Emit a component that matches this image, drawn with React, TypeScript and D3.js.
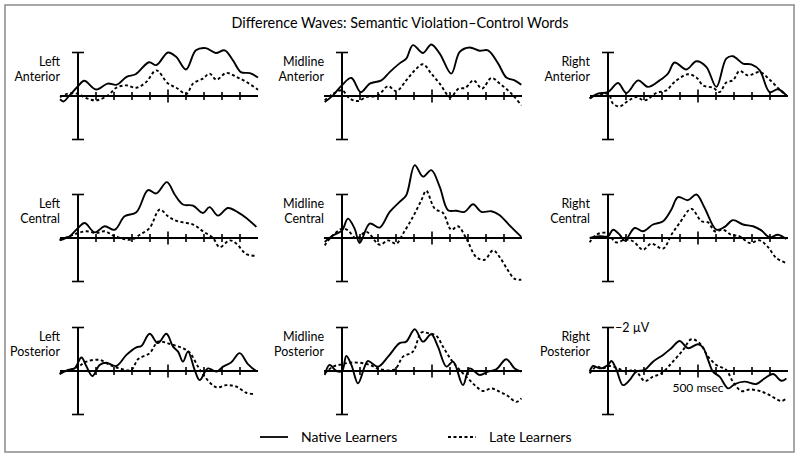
import React, { useEffect, useRef } from "react";
import * as d3 from "d3";

// grid of electrode sites
const columns = ["Left", "Midline", "Right"];
const rows = ["Anterior", "Central", "Posterior"];
const seriesNames = ["Native Learners", "Late Learners"];
const tickTimes = [100, 200, 300, 400, 500, 600, 700, 800, 900];

// [ms, µV] (negative plotted up)
const leftAnteriorNative = [
  [-100, 0.15], [-80, 0.25], [-50, 0.0], [0, -0.45], [35, -0.7], [100, -0.3], [165, -0.57],
  [215, -0.52], [270, -0.88], [320, -1.0], [395, -1.55], [435, -1.42], [500, -2.0], [545, -1.8],
  [600, -1.22], [655, -2.1], [710, -2.2], [765, -1.98], [815, -2.1], [860, -1.65], [905, -1.1],
  [955, -1.05], [1000, -0.85],
];
const leftAnteriorLate = [
  [-100, 0.05], [-56, -0.11], [0, -0.1], [46, 0.1], [102, 0.2], [167, -0.03], [213, -0.38],
  [269, -0.49], [324, -0.38], [380, -0.65], [435, -1.18], [500, -0.57], [546, -0.38], [602, -0.1],
  [639, -0.57], [694, -0.8], [731, -1.03], [769, -0.75], [824, -1.06], [880, -0.88], [935, -0.65],
  [1000, -0.29],
];
const midlineAnteriorNative = [
  [-96, 0.28], [-50, -0.03], [0, -0.5], [52, -0.83], [104, -0.18], [154, -0.57], [219, -0.72],
  [265, -1.1], [320, -1.5], [357, -1.72], [394, -2.34], [450, -1.98], [496, -2.37], [543, -1.95],
  [607, -1.03], [654, -2.03], [709, -2.23], [765, -2.08], [811, -2.1], [867, -1.5], [913, -0.85],
  [959, -0.72], [996, -0.52],
];
const midlineAnteriorLate = [
  [-96, 0.2], [-50, -0.1], [0, -0.26], [43, 0.12], [89, 0.23], [135, 0.05], [200, -0.03],
  [256, -0.45], [302, -0.22], [357, -0.72], [404, -1.18], [450, -1.46], [496, -1.03], [543, -0.57],
  [602, 0.05], [648, -0.34], [685, -0.37], [731, -0.72], [778, -0.34], [830, -0.83], [876, -0.57],
  [922, -0.26], [959, 0.05], [996, 0.43],
];
const rightAnteriorNative = [
  [-102, 0.12], [-56, -0.11], [0, -0.18], [56, -0.6], [102, -0.14], [167, -0.72], [222, -0.42],
  [287, -0.72], [333, -1.03], [370, -1.54], [435, -1.22], [491, -1.6], [546, -1.34], [602, -0.42],
  [657, -1.72], [694, -1.83], [750, -1.49], [796, -1.45], [843, -1.18], [898, -0.18], [944, -0.31],
  [991, -0.03],
];
const rightAnteriorLate = [
  [-102, 0.1], [0, -0.1], [28, 0.35], [65, 0.48], [111, 0.23], [157, 0.05], [204, 0.2],
  [269, -0.14], [324, -0.26], [370, -0.65], [444, -1.0], [491, -0.85], [528, -0.49], [583, -0.38],
  [620, -0.18], [657, -0.62], [694, -0.72], [731, -1.15], [778, -0.95], [843, -1.1], [898, -0.75],
  [954, -0.29], [991, -0.03],
];
const leftCentralNative = [
  [-102, 0.11], [-46, -0.08], [0, -0.46], [37, -0.69], [93, -0.26], [148, -0.54], [204, -0.38],
  [259, -1.0], [324, -1.18], [389, -2.2], [435, -2.05], [494, -2.57], [537, -2.0], [583, -1.54],
  [639, -1.49], [694, -1.15], [731, -1.42], [778, -1.03], [833, -1.38], [889, -1.18], [935, -0.92],
  [991, -0.51],
];
const leftCentralLate = [
  [-102, 0.08], [-46, -0.08], [0, -0.23], [46, -0.31], [102, -0.23], [148, -0.31], [204, -0.08],
  [296, 0.08], [343, -0.15], [398, -0.46], [454, -1.31], [500, -1.0], [537, -0.82], [583, -0.72],
  [639, -0.62], [694, -0.31], [750, 0.0], [787, 0.42], [843, 0.11], [880, 0.26], [935, 0.74],
  [991, 0.82],
];
const midlineCentralNative = [
  [-96, 0.18], [-50, -0.12], [0, -0.35], [33, -0.89], [70, -0.43], [98, 0.23], [154, -0.66],
  [209, -0.48], [265, -1.2], [320, -1.66], [357, -1.97], [404, -3.35], [450, -2.82], [496, -3.12],
  [543, -2.35], [589, -1.28], [635, -1.25], [681, -1.2], [728, -1.55], [774, -1.2], [830, -1.23],
  [876, -1.05], [931, -0.58], [996, -0.05],
];
const midlineCentralLate = [
  [-96, 0.34], [-59, -0.05], [0, -0.43], [33, -0.35], [80, 0.03], [135, -0.28], [209, 0.31],
  [256, 0.11], [302, 0.26], [339, -0.2], [394, -0.97], [441, -1.74], [468, -2.17], [515, -1.35],
  [561, -1.15], [607, -0.38], [644, -0.54], [691, 0.03], [746, 0.88], [793, 1.0], [839, 0.57],
  [876, 0.88], [922, 1.49], [959, 1.88], [996, 1.92],
];
const rightCentralNative = [
  [-102, 0.0], [-46, -0.08], [0, -0.08], [28, -0.38], [65, -0.15], [93, 0.12], [148, -0.46],
  [194, -0.31], [250, -0.62], [306, -0.77], [352, -1.31], [389, -1.88], [444, -1.74], [491, -2.0],
  [537, -1.38], [602, -0.38], [648, -0.51], [694, -0.82], [750, -0.62], [806, -0.54], [852, -0.35],
  [898, -0.03], [944, -0.15], [991, 0.05],
];
const rightCentralLate = [
  [-102, 0.2], [-65, -0.15], [-9, -0.23], [46, 0.2], [93, 0.08], [139, 0.15], [194, 0.54],
  [241, 0.26], [306, 0.49], [352, -0.15], [398, -0.69], [463, -1.34], [519, -0.77], [556, -0.72],
  [593, -0.31], [639, -0.38], [685, -0.15], [731, -0.08], [787, 0.23], [843, 0.11], [889, 0.42],
  [935, 0.92], [991, 1.15],
];
const leftPosteriorNative = [
  [-102, 0.15], [-56, -0.05], [-19, -0.12], [19, -0.62], [46, -0.23], [80, 0.23], [120, -0.28],
  [157, -0.38], [213, -0.23], [269, -0.74], [324, -1.09], [352, -1.15], [398, -1.71], [444, -1.28],
  [491, -1.71], [528, -1.12], [556, -0.89], [583, -0.43], [611, -0.89], [648, -0.05], [676, 0.42],
  [722, -0.12], [769, 0.03], [806, -0.2], [852, -0.4], [898, -0.82], [944, -0.32], [991, 0.0],
];
const leftPosteriorLate = [
  [-102, 0.11], [0, -0.2], [46, -0.43], [120, -0.51], [176, -0.28], [231, -0.12], [296, -0.05],
  [333, -0.54], [398, -0.82], [444, -1.35], [481, -1.32], [528, -1.2], [574, -1.08], [620, -0.85],
  [667, -0.2], [704, 0.26], [769, 0.75], [824, 0.65], [880, 0.72], [935, 1.0], [981, 1.06],
];
const midlinePosteriorNative = [
  [-96, 0.18], [-69, -0.28], [-31, 0.0], [0, 0.0], [24, -0.69], [52, -0.28], [89, 0.57],
  [126, -0.2], [144, -0.46], [200, -0.2], [256, -0.66], [320, -1.28], [357, -1.35], [404, -1.92],
  [450, -1.35], [496, -1.69], [533, -1.12], [580, -0.2], [617, -0.43], [672, 0.65], [709, -0.12],
  [765, 0.18], [811, 0.03], [857, -0.08], [913, -0.54], [959, -0.12], [996, 0.03],
];
const midlinePosteriorLate = [
  [-96, 0.11], [-50, -0.2], [0, -0.31], [43, -0.38], [98, -0.38], [154, -0.28], [209, -0.08],
  [293, -0.08], [339, -0.66], [394, -0.89], [441, -1.77], [478, -1.74], [524, -1.62], [561, -1.12],
  [607, -0.51], [654, -0.05], [700, 0.34], [737, 0.65], [783, 0.92], [830, 0.8], [876, 0.95],
  [922, 1.15], [969, 1.42], [996, 1.26],
];
const rightPosteriorNative = [
  [-102, 0.03], [-83, -0.23], [-46, -0.12], [0, -0.28], [19, -0.46], [46, -0.08], [83, 0.65],
  [120, 0.42], [157, 0.03], [204, -0.05], [250, -0.43], [306, -0.74], [352, -1.05], [398, -1.38],
  [444, -1.05], [500, -1.23], [528, -1.08], [556, -0.51], [583, 0.03], [620, 0.26], [667, 0.8],
  [704, 0.6], [759, 0.49], [824, 0.6], [870, 0.34], [917, 0.14], [963, 0.45], [991, 0.34],
];
const rightPosteriorLate = [
  [-102, 0.11], [-65, -0.2], [-28, -0.12], [9, -0.23], [56, -0.12], [102, 0.03], [148, -0.05],
  [204, 0.46], [250, 0.26], [296, 0.11], [352, -0.35], [417, -0.97], [463, -1.46], [509, -1.28],
  [556, -0.66], [602, -0.28], [657, -0.05], [694, 0.49], [741, 0.92], [787, 0.85], [843, 0.92],
  [898, 1.11], [963, 1.38], [991, 1.26],
];

const waves = [
  [leftAnteriorNative, leftAnteriorLate],
  [midlineAnteriorNative, midlineAnteriorLate],
  [rightAnteriorNative, rightAnteriorLate],
  [leftCentralNative, leftCentralLate],
  [midlineCentralNative, midlineCentralLate],
  [rightCentralNative, rightCentralLate],
  [leftPosteriorNative, leftPosteriorLate],
  [midlinePosteriorNative, midlinePosteriorLate],
  [rightPosteriorNative, rightPosteriorLate],
];

const FONT = "Lato, 'Open Sans', sans-serif";

export default function App() {
  const ref = useRef(null);

  useEffect(() => {
    const width = 800;
    const height = 458;
    const originX = [78, 342, 608]; // 0 ms per column
    const axisY = [96, 238, 371]; // baseline per row
    const msWidth = 180; // px per 1000 ms
    const halfH = 43.5; // px per 2 µV

    const svg = d3.select(ref.current);
    svg.selectAll("*").remove();
    svg.attr("width", width).attr("height", height).attr("viewBox", [0, 0, width, height]);

    svg
      .append("rect")
      .attr("x", 5)
      .attr("y", 5)
      .attr("width", 789)
      .attr("height", 447)
      .attr("fill", "white")
      .attr("stroke", "#8a8a8a")
      .attr("stroke-width", 1.5);

    svg
      .append("text")
      .attr("x", 400)
      .attr("y", 28)
      .attr("text-anchor", "middle")
      .attr("font-family", FONT)
      .attr("font-size", 15.5)
      .attr("textLength", 337)
      .attr("lengthAdjust", "spacingAndGlyphs")
      .text("Difference Waves: Semantic Violation\u2013Control Words");

    rows.forEach((row, ri) => {
      columns.forEach((col, ci) => {
        const x = d3
          .scaleLinear()
          .domain([0, 1000])
          .range([originX[ci], originX[ci] + msWidth]);
        const y = d3
          .scaleLinear()
          .domain([-2, 2])
          .range([axisY[ri] - halfH, axisY[ri] + halfH]);
        const g = svg.append("g");

        // site label
        const label = g
          .append("text")
          .attr("text-anchor", "end")
          .attr("font-family", FONT)
          .attr("font-size", 12.5);
        label.append("tspan").attr("x", x(-100)).attr("y", y(0) - 30).text(col);
        label.append("tspan").attr("x", x(-100)).attr("y", y(0) - 15).text(row);

        // time axis
        g.append("line")
          .attr("x1", x(-100))
          .attr("x2", x(1000))
          .attr("y1", y(0))
          .attr("y2", y(0))
          .attr("stroke", "black")
          .attr("stroke-width", 2);
        g.selectAll(".tick")
          .data(tickTimes)
          .join("line")
          .attr("x1", (d) => x(d))
          .attr("x2", (d) => x(d))
          .attr("y1", (d) => y(0) - (d === 500 ? 6.5 : 4))
          .attr("y2", (d) => y(0) + (d === 500 ? 6.5 : 4))
          .attr("stroke", "black")
          .attr("stroke-width", 1.6);

        // amplitude bar with caps
        g.append("line")
          .attr("x1", x(0))
          .attr("x2", x(0))
          .attr("y1", y(-2))
          .attr("y2", y(2))
          .attr("stroke", "black")
          .attr("stroke-width", 2);
        g.selectAll(".cap")
          .data([-2, 2])
          .join("line")
          .attr("x1", x(0) - 6)
          .attr("x2", x(0) + 6)
          .attr("y1", (d) => y(d))
          .attr("y2", (d) => y(d))
          .attr("stroke", "black")
          .attr("stroke-width", 1.6);

        const line = d3
          .line()
          .x((d) => x(d[0]))
          .y((d) => y(d[1]))
          .curve(d3.curveCatmullRom.alpha(0.5));

        waves[ri * 3 + ci].forEach((wave, si) => {
          g.append("path")
            .attr("d", line(wave))
            .attr("fill", "none")
            .attr("stroke", "black")
            .attr("stroke-width", 1.9)
            .attr("stroke-dasharray", si === 1 ? "3,2.5" : null);
        });

        // scale annotations on the last panel
        if (ri === 2 && ci === 2) {
          g.append("text")
            .attr("x", x(0) + 7)
            .attr("y", y(-2) + 4)
            .attr("font-family", FONT)
            .attr("font-size", 12.5)
            .text("\u22122 \u00b5V");
          g.append("text")
            .attr("x", x(500))
            .attr("y", y(0) + 21)
            .attr("text-anchor", "middle")
            .attr("font-family", FONT)
            .attr("font-size", 12)
            .text("500 msec");
        }
      });
    });

    // legend
    const legend = svg.append("g");
    const legendItems = [
      { name: seriesNames[0], x: 260, dash: null },
      { name: seriesNames[1], x: 448, dash: "3,2.5" },
    ];
    legendItems.forEach((d) => {
      legend
        .append("line")
        .attr("x1", d.x)
        .attr("x2", d.x + 28)
        .attr("y1", 437)
        .attr("y2", 437)
        .attr("stroke", "black")
        .attr("stroke-width", 1.8)
        .attr("stroke-dasharray", d.dash);
      legend
        .append("text")
        .attr("x", d.x + 41)
        .attr("y", 441.5)
        .attr("font-family", FONT)
        .attr("font-size", 14)
        .text(d.name);
    });
  }, []);

  return <svg ref={ref} style={{ position: "absolute", left: 0, top: 0 }}></svg>;
}
